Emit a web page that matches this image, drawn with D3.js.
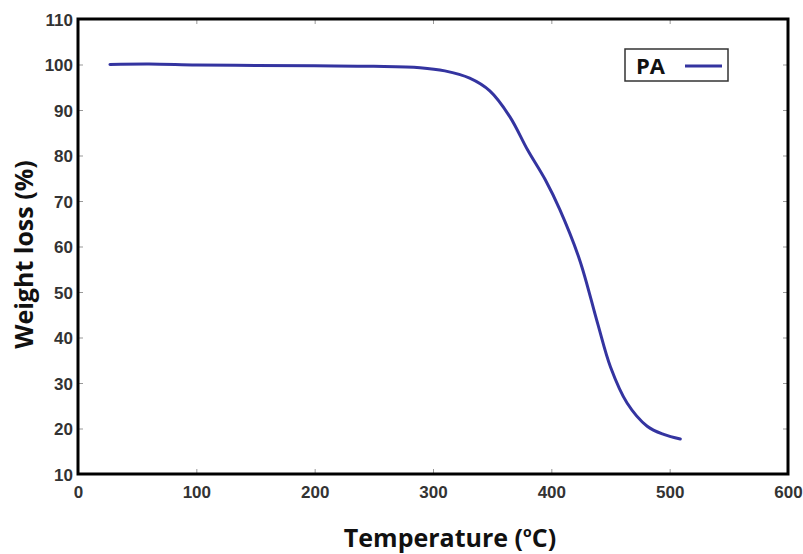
<!DOCTYPE html>
<html>
<head>
<meta charset="utf-8">
<script src="https://cdn.jsdelivr.net/npm/d3@7"></script>
<style>
    body { margin: 0; background: #fff; }
    .tick text { font-family: "Liberation Sans Narrow", "Liberation Sans", Arial, sans-serif; font-weight: bold; font-size: 17px; fill: #333; }
    .axis line { stroke: #999; }
    .axis path { display: none; }
    .title { font-family: "Open Sans", "DejaVu Sans", sans-serif; font-weight: bold; fill: #111; }
</style>
</head>
<body>
<div id="chart"></div>
<script>
// TGA curve
var temperature = [27, 60, 100, 150, 200, 250, 289, 310, 331, 348, 365, 380, 395, 407, 424, 439, 450, 464, 481, 495, 509]
var weight = [100, 100.1, 99.9, 99.8, 99.7, 99.6, 99.3, 98.6, 97.0, 94.2, 88.5, 81.2, 74.6, 68.2, 57.0, 43.2, 33.5, 25.6, 20.5, 18.7, 17.7]
var xTicks = [0, 100, 200, 300, 400, 500, 600]
var yTicks = [10, 20, 30, 40, 50, 60, 70, 80, 90, 100, 110]
var seriesName = "PA"

var width = 803, height = 554
var margin = {top: 19, right: 15, bottom: 80, left: 78}
var chartWidth = width - margin.left - margin.right
var chartHeight = height - margin.top - margin.bottom

var svg = d3.select("#chart").append("svg").attr("width", width).attr("height", height)
var chartLayer = svg.append("g").attr("transform", "translate(" + [margin.left, margin.top] + ")")

var xScale = d3.scaleLinear().domain([0, 600]).range([0, chartWidth])
var yScale = d3.scaleLinear().domain([10, 110]).range([chartHeight, 0])

var data = temperature.map(function (t, i) { return {t: t, w: weight[i]} })

function drawAxis() {
    // ticks point inward, on all four sides
    chartLayer.append("g").attr("class", "axis x")
        .attr("transform", "translate(0," + chartHeight + ")")
        .call(d3.axisBottom(xScale).tickValues(xTicks).tickSizeInner(-5).tickSizeOuter(0).tickPadding(12))
    chartLayer.append("g").attr("class", "axis y")
        .call(d3.axisLeft(yScale).tickValues(yTicks).tickSizeInner(-5).tickSizeOuter(0).tickPadding(5))
        .selectAll(".tick text").attr("dy", "0.36em")
    chartLayer.append("g").attr("class", "axis")
        .call(d3.axisTop(xScale).tickValues(xTicks).tickSizeInner(-5).tickSizeOuter(0).tickFormat(""))
    chartLayer.append("g").attr("class", "axis")
        .attr("transform", "translate(" + chartWidth + ",0)")
        .call(d3.axisRight(yScale).tickValues(yTicks).tickSizeInner(-5).tickSizeOuter(0).tickFormat(""))

    chartLayer.append("rect")
        .attr("width", chartWidth).attr("height", chartHeight)
        .attr("fill", "none").attr("stroke", "#000").attr("stroke-width", 3)
}

function drawChart() {
    var line = d3.line()
        .x(function (d) { return xScale(d.t) })
        .y(function (d) { return yScale(d.w) })
        .curve(d3.curveCatmullRom.alpha(0.5))

    chartLayer.append("path").datum(data)
        .attr("d", line)
        .attr("fill", "none")
        .attr("stroke", "#3434a0")
        .attr("stroke-width", 3)
        .attr("stroke-linecap", "round")
}

function drawLegend() {
    var lg = svg.append("g").attr("transform", "translate(625,49)")
    lg.append("rect").attr("width", 103).attr("height", 32)
        .attr("fill", "#fff").attr("stroke", "#333").attr("stroke-width", 1.5)
    lg.append("text").attr("class", "title").attr("x", 11).attr("y", 25)
        .style("font-size", "22px").text(seriesName)
    lg.append("line").attr("x1", 60).attr("x2", 97).attr("y1", 17).attr("y2", 17)
        .attr("stroke", "#3434a0").attr("stroke-width", 3)
}

function drawTitles() {
    svg.append("text").attr("class", "title")
        .attr("transform", "translate(33," + (margin.top + chartHeight / 2 + 8) + ") rotate(-90)")
        .attr("text-anchor", "middle")
        .style("font-size", "25px")
        .text("Weight loss (%)")

    var xt = svg.append("text").attr("class", "title")
        .attr("x", 450).attr("y", 547)
        .attr("text-anchor", "middle")
        .style("font-size", "25px")
    xt.append("tspan").text("Temperature (")
    xt.append("tspan").attr("dy", -10).style("font-size", "14px").text("o")
    xt.append("tspan").attr("dy", 10).text("C)")
}

drawAxis()
drawChart()
drawLegend()
drawTitles()
</script>
</body>
</html>
